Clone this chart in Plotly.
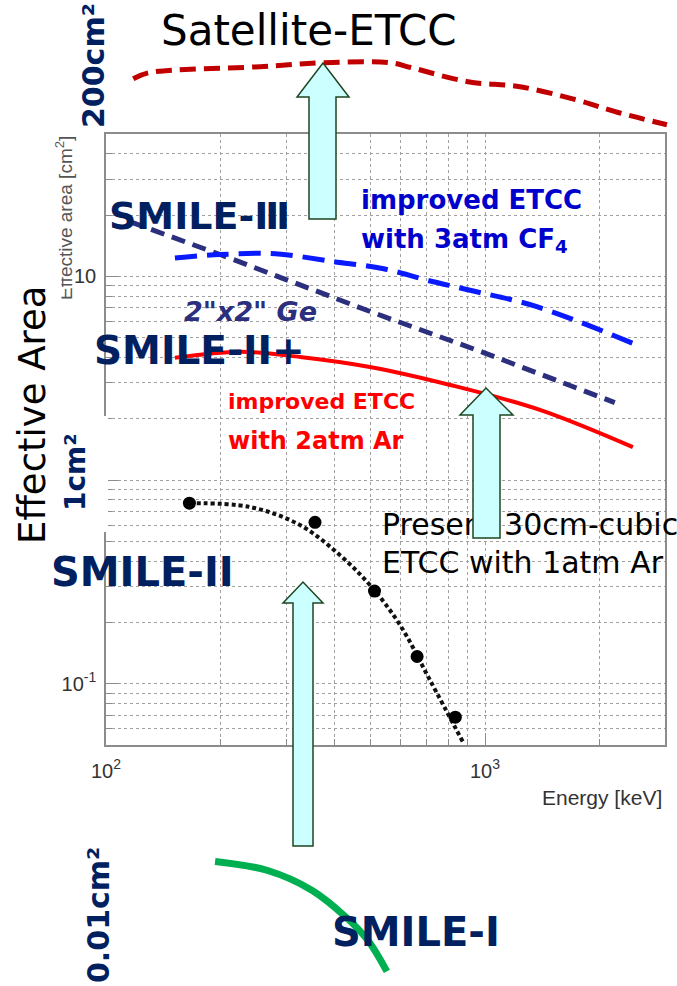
import math
import plotly.graph_objects as go

W, H = 677, 986

# ---- curves inside the ROOT-style effective-area frame (keV, cm^2) ----
ge_energy = [116, 200, 500, 1000, 2200]
ge_area = [18.5, 12.8, 6.7, 4.2, 2.4]

cf4_energy = [152, 200, 280, 400, 540, 700, 900, 1370, 2450]
cf4_area = [12.3, 12.8, 12.9, 11.8, 10.9, 9.6, 8.6, 7.1, 4.7]

ar2_energy = [152, 226, 325, 497, 809, 1396, 2456]
ar2_area = [3.98, 4.26, 4.02, 3.59, 2.93, 2.21, 1.45]

meas_energy = [166, 356, 511, 662, 835]
meas_area = [0.77, 0.62, 0.285, 0.136, 0.0685]

fit_energy = [166, 240, 325, 414, 497, 597, 716, 875]
fit_area = [0.77, 0.737, 0.601, 0.428, 0.305, 0.194, 0.104, 0.0516]

# ---- curves drawn outside the frame on the extended scale ----
sat_energy = [118, 130, 255, 378, 562, 638, 902, 1237, 1738, 2258, 3020]
sat_area = [93.4, 100, 107, 112, 112, 106, 90.3, 85.3, 73.6, 63.6, 55.5]

smile1_energy = [194, 267, 350, 430, 491, 551]
smile1_area = [0.0134, 0.0121, 0.00966, 0.00713, 0.00549, 0.00387]

x_tick_vals = [100, 1000]
x_tick_text = ["10<sup>2</sup>", "10<sup>3</sup>"]
y_tick_vals = [0.1, 1, 10]
y_tick_text = ["10<sup>-1</sup>", "1", "10"]

# ---- geometry (pixels) ----
FL, FR, FT, FB = 106, 665, 134, 745          # frame edges
X_RANGE = [2.0, math.log10(2985)]
Y_RANGE = [math.log10(0.05), math.log10(50)]

ppd_x = (FR - FL) / (X_RANGE[1] - X_RANGE[0])
ppd_y = (FB - FT) / (Y_RANGE[1] - Y_RANGE[0])
X2_RANGE = [X_RANGE[0] - FL / ppd_x, X_RANGE[0] + (W - FL) / ppd_x]
Y2_RANGE = [Y_RANGE[0] - (H - FB) / ppd_y, Y_RANGE[1] + FT / ppd_y]


def px(x):
    return x / W


def py(y):
    return 1 - y / H


def x2_at(x):
    return 10 ** (X2_RANGE[0] + (X2_RANGE[1] - X2_RANGE[0]) * x / W)


def y2_at(y):
    return 10 ** (Y2_RANGE[1] - (Y2_RANGE[1] - Y2_RANGE[0]) * y / H)


COMIC = "DejaVu Sans"
SANS = "Liberation Sans, Arial, sans-serif"
NAVY = "#002060"
GRID = "#a0a0a0"
FRAME = "#8c8c8c"

fig = go.Figure()

fig.add_trace(go.Scatter(x=ge_energy, y=ge_area, mode="lines",
                         line=dict(color="#2b2f7e", width=5, dash="14px,8px"),
                         xaxis="x", yaxis="y"))
fig.add_trace(go.Scatter(x=cf4_energy, y=cf4_area, mode="lines",
                         line=dict(color="#0a1aff", width=5, dash="22px,10px", shape="spline"),
                         xaxis="x", yaxis="y"))
fig.add_trace(go.Scatter(x=ar2_energy, y=ar2_area, mode="lines",
                         line=dict(color="#ff0000", width=4, shape="spline"),
                         xaxis="x", yaxis="y"))
fig.add_trace(go.Scatter(x=fit_energy, y=fit_area, mode="lines",
                         line=dict(color="#111111", width=4, dash="4px,3px", shape="spline"),
                         xaxis="x", yaxis="y"))
fig.add_trace(go.Scatter(x=meas_energy, y=meas_area, mode="markers",
                         marker=dict(color="black", size=13),
                         xaxis="x", yaxis="y"))

fig.add_trace(go.Scatter(x=sat_energy, y=sat_area, mode="lines",
                         line=dict(color="#c00000", width=5, dash="16px,8px", shape="spline"),
                         xaxis="x2", yaxis="y2"))
fig.add_trace(go.Scatter(x=smile1_energy, y=smile1_area, mode="lines",
                         line=dict(color="#00b050", width=7, shape="spline"),
                         xaxis="x2", yaxis="y2"))

# label for the present detector sits under the arrow shapes
fig.add_trace(go.Scatter(
    x=[x2_at(382), x2_at(382)], y=[y2_at(527), y2_at(565)], mode="text",
    text=["Present 30cm-cubic", "ETCC with 1atm Ar"], textposition="middle right",
    textfont=dict(family=COMIC, size=30, color="black"),
    xaxis="x2", yaxis="y2", cliponaxis=False))

minor_x = [k * 10 ** d for d in range(2, 4) for k in range(2, 10)]
minor_y = [k * 10 ** d for d in range(-2, 2) for k in range(2, 10)]

axis_common = dict(
    type="log", showgrid=True, gridcolor=GRID, griddash="dot", gridwidth=1,
    showline=True, linecolor=FRAME, linewidth=1.5, mirror=True,
    ticks="inside", ticklen=12, tickcolor=FRAME, zeroline=False, automargin=False,
    tickfont=dict(family=SANS, size=20, color="#333333"),
)

fig.update_layout(
    width=W, height=H, margin=dict(l=0, r=0, t=0, b=0, autoexpand=False),
    paper_bgcolor="white", plot_bgcolor="rgba(0,0,0,0)", showlegend=False,
    xaxis=dict(**axis_common, domain=[px(FL), px(FR)], range=X_RANGE, anchor="y",
               tickvals=x_tick_vals, ticktext=x_tick_text, ticklabelstandoff=7,
               minor=dict(tickvals=minor_x, ticks="inside", ticklen=6, tickcolor=FRAME,
                          showgrid=True, gridcolor=GRID, griddash="dot")),
    yaxis=dict(**axis_common, domain=[py(FB), py(FT)], range=Y_RANGE, anchor="x",
               tickvals=y_tick_vals, ticktext=y_tick_text, ticklabelstandoff=4,
               minor=dict(tickvals=minor_y, ticks="inside", ticklen=6, tickcolor=FRAME,
                          showgrid=True, gridcolor=GRID, griddash="dot")),
    xaxis2=dict(type="log", domain=[0, 1], range=X2_RANGE, anchor="y2", visible=False,
                automargin=False),
    yaxis2=dict(type="log", domain=[0, 1], range=Y2_RANGE, anchor="x2", visible=False,
                automargin=False),
)


def arrow_path(tip_x, tip_y, head_y, head_l, head_r, sh_l, sh_r, bottom):
    pts = [(sh_l, bottom), (sh_l, head_y), (head_l, head_y), (tip_x, tip_y),
           (head_r, head_y), (sh_r, head_y), (sh_r, bottom)]
    return "M " + " L ".join(f"{px(a):.5f},{py(b):.5f}" for a, b in pts) + " Z"


shapes = [
    # white patch behind the 1cm^2 marker
    dict(type="rect", xref="paper", yref="paper", x0=px(50), x1=px(108), y0=py(532), y1=py(416),
         fillcolor="white", line=dict(width=0), layer="above"),
]
for spec in [
    (323, 63, 97, 297, 349, 309, 336, 219),
    (486, 388, 415, 460, 513, 473, 500, 538),
    (303, 582, 603, 283, 323, 293, 313, 846),
]:
    shapes.append(dict(type="path", xref="paper", yref="paper", path=arrow_path(*spec),
                       fillcolor="#ccffff", line=dict(color="#1e4620", width=1.5), layer="above"))
fig.update_layout(shapes=shapes)


def label(text, x, y, size, color, bold=False, angle=0, xanchor="center", family=COMIC):
    return dict(text=f"<b>{text}</b>" if bold else text, x=px(x), y=py(y),
                xref="paper", yref="paper", xanchor=xanchor, yanchor="middle",
                showarrow=False, textangle=angle,
                font=dict(family=family, size=size, color=color))


annotations = [
    label("Effective area [cm<sup>2</sup>]", 64, 218, 19, "#555555", angle=-90, family=SANS),
    dict(text=" ", x=px(0), y=py(255), xref="paper", yref="paper", xanchor="left",
         yanchor="top", showarrow=False, width=58, height=300, bgcolor="white"),
    label("Effective Area", 33, 415, 37, "black", angle=-90),
    label("Satellite-ETCC", 309, 30, 42, "black"),
    label("200cm²", 94, 66, 30, NAVY, bold=True, angle=-90),
    label("1cm²", 76, 472, 28, NAVY, bold=True, angle=-90),
    label("0.01cm²", 98, 915, 30, NAVY, bold=True, angle=-90),
    label("SMILE-Ⅲ", 107, 216, 38, NAVY, bold=True, xanchor="left"),
    label("improved ETCC", 359, 200, 26, "#0000cc", bold=True, xanchor="left"),
    label("with 3atm CF<sub>4</sub>", 359, 240, 26, "#0000cc", bold=True, xanchor="left"),
    label("<i>2\"x2\" Ge</i>", 182, 311, 27, "#2b2f7e", bold=True, xanchor="left"),
    label("SMILE-II+", 92, 351, 39, NAVY, bold=True, xanchor="left"),
    label("improved ETCC", 226, 402, 22, "#ff0000", bold=True, xanchor="left"),
    label("with 2atm Ar", 226, 441, 24, "#ff0000", bold=True, xanchor="left"),
    label("SMILE-II", 49, 572, 40, NAVY, bold=True, xanchor="left"),
    label("SMILE-I", 330, 932, 40, NAVY, bold=True, xanchor="left"),
    label("Energy [keV]", 664, 797, 21, "#333333", xanchor="right", family=SANS),
]
fig.update_layout(annotations=annotations)

fig.write_html("out.html")
